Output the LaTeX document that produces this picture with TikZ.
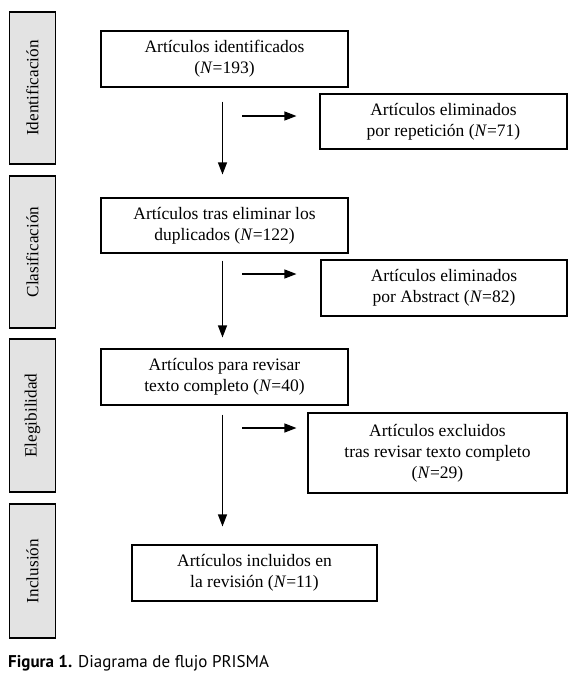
\documentclass[tikz,border=0pt]{standalone}
\usepackage{fontspec}
\setmainfont{Liberation Serif}
\newfontfamily\capfont{PT Sans}
\usetikzlibrary{arrows.meta}
\definecolor{sidegray}{HTML}{E3E3E3}
\begin{document}
\begin{tikzpicture}[x=1pt,y=-1pt,
  box/.style={draw=black,line width=1.1pt,inner sep=0pt,align=center,
    font=\fontsize{17.5}{21}\selectfont},
  side/.style={draw=black,line width=1.1pt,fill=sidegray,inner sep=0pt,
    minimum width=46pt},
  sidetext/.style={rotate=90,font=\fontsize{17.2}{20}\selectfont},
  arr/.style={line width=1.1pt,-{Triangle[length=12pt,width=9pt]}}]
\useasboundingbox (0,0) rectangle (578,686);
% side boxes
\node[side,minimum height=152pt] (s1) at (32.5,88) {};
\node[sidetext] (t1) at (s1.center) {Identificación};
\node[side,minimum height=152pt] (s2) at (32.5,252) {};
\node[sidetext] (t2) at (s2.center) {Clasificación};
\node[side,minimum height=153pt] (s3) at (32.5,415.5) {};
\node[sidetext] (t3) at (s3.center) {Elegibilidad};
\node[side,minimum height=134pt] (s4) at (32.5,571) {};
\node[sidetext] (t4) at (s4.center) {Inclusión};
% main boxes
\node[box,minimum width=247pt,minimum height=56pt] (b1) at (224.5,59) {Artículos identificados\\(\textit{N}=193)};
\node[box,minimum width=247pt,minimum height=55pt] (b2) at (224.5,225.5) {Artículos tras eliminar los\\duplicados (\textit{N}=122)};
\node[box,minimum width=247pt,minimum height=56pt] (b3) at (224.5,377) {Artículos para revisar\\texto completo (\textit{N}=40)};
\node[box,minimum width=245pt,minimum height=56pt] (b4) at (254.5,573) {Artículos incluidos en\\la revisión (\textit{N}=11)};
% exclusion boxes
\node[box,minimum width=247pt,minimum height=55pt] (e1) at (443.5,121.5) {Artículos eliminados\\por repetición (\textit{N}=71)};
\node[box,minimum width=246pt,minimum height=56pt] (e2) at (444,288) {Artículos eliminados\\por Abstract (\textit{N}=82)};
\node[box,minimum width=259pt,minimum height=80pt] (e3) at (437.5,453) {Artículos excluidos\\tras revisar texto completo\\(\textit{N}=29)};
% connectors
\coordinate (ax) at (222.5,0);
\draw[arr,shorten <=14pt,shorten >=23pt] (b1.south -| ax) -- (b2.north -| ax);
\draw[arr,shorten <=7pt,shorten >=11pt] (b2.south -| ax) -- (b3.north -| ax);
\draw[arr,shorten <=9pt,shorten >=18pt] (b3.south -| ax) -- (b4.north -| ax);
\coordinate (h1) at (242,116);
\coordinate (h2) at (242,274);
\coordinate (h3) at (242,428);
\draw[arr,shorten >=23pt] (h1) -- (e1.west |- h1);
\draw[arr,shorten >=24pt] (h2) -- (e2.west |- h2);
\draw[arr,shorten >=11pt] (h3) -- (e3.west |- h3);
% caption
\node[anchor=base west,inner sep=0pt,font=\capfont\fontsize{17}{20}\selectfont] (cap) at (8,667) {\textbf{Figura 1.} Diagrama de flujo PRISMA};
\end{tikzpicture}
\end{document}
